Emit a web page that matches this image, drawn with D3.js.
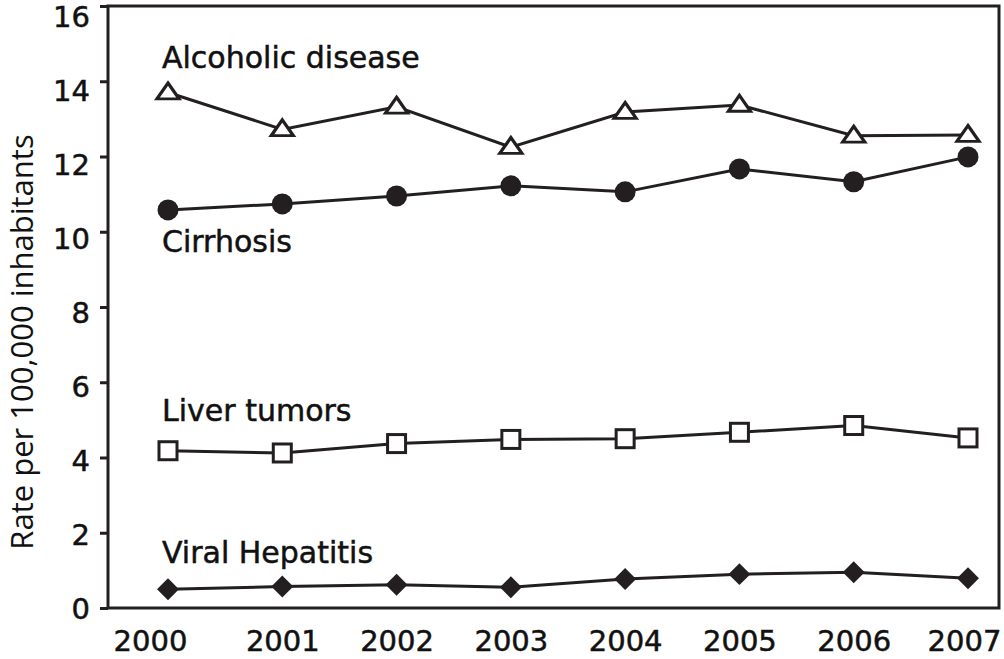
<!DOCTYPE html>
<html>
<head>
<meta charset="utf-8">
<script src="https://cdn.jsdelivr.net/npm/d3@7"></script>
<style>
  body { margin: 0; background: #fff; }
  .tick text { font-family: 'DejaVu Sans', sans-serif; }
</style>
</head>
<body>
<div id="chart"></div>
<script>
// The data
var years = [2000, 2001, 2002, 2003, 2004, 2005, 2006, 2007];
var yTicks = [0, 2, 4, 6, 8, 10, 12, 14, 16];
var alcoholic = [13.7, 12.72, 13.32, 12.25, 13.18, 13.37, 12.55, 12.57];
var cirrhosis = [10.58, 10.74, 10.95, 11.22, 11.06, 11.67, 11.33, 11.99];
var liverTumors = [4.18, 4.12, 4.37, 4.48, 4.5, 4.67, 4.85, 4.52];
var viralHepatitis = [0.5, 0.57, 0.62, 0.55, 0.77, 0.9, 0.95, 0.79];
var seriesNames = ['Alcoholic disease', 'Cirrhosis', 'Liver tumors', 'Viral Hepatitis'];

// Chart dimensions
var margin = { top: 6, right: 5, bottom: 51, left: 108 },
    width = 1004 - margin.left - margin.right,
    height = 659 - margin.top - margin.bottom;

var svg = d3.select('#chart').append('svg')
    .attr('width', 1004)
    .attr('height', 659)
  .append('g')
    .attr('transform', 'translate(' + margin.left + ',' + margin.top + ')');

var x = d3.scaleLinear().domain([2000, 2007]).range([60, 860]);
var y = d3.scaleLinear().domain([0, 16]).range([height, 0]);
// tick labels sit a little lower than their ticks near the top
var yLabel = d3.scaleLinear().domain([0, 16]).range([height, 10]);

// Frame
svg.append('rect')
    .attr('x', 0).attr('y', 0)
    .attr('width', width).attr('height', height)
    .style('fill', 'none')
    .style('stroke', '#231f20')
    .style('stroke-width', 3);

// Y axis
var yAxis = svg.append('g')
    .call(d3.axisLeft(y).tickValues(yTicks).tickSize(8).tickPadding(10));
yAxis.select('.domain').remove();
yAxis.selectAll('line').style('stroke', '#231f20').style('stroke-width', 3);
yAxis.selectAll('text')
    .style('font-size', '29px')
    .style('fill', '#111')
    .style('stroke', '#111')
    .style('stroke-width', 0.5)
    .attr('y', function(d) { return yLabel(d) - y(d); })
    .attr('dy', '0.36em');

// X axis (labels only)
var xAxis = svg.append('g')
    .attr('transform', 'translate(0,' + height + ')')
    .call(d3.axisBottom(x).tickValues(years).tickFormat(d3.format('d')).tickSize(0).tickPadding(22));
xAxis.select('.domain').remove();
xAxis.selectAll('text')
    .style('font-size', '29px')
    .style('fill', '#111')
    .style('stroke', '#111')
    .style('stroke-width', 0.5)
    .attr('dx', function(d) { return d === 2000 ? -18 : (d === 2007 ? -4 : 0); });

// Y axis title
svg.append('text')
    .attr('transform', 'translate(' + (-75) + ',' + 336 + ') rotate(-90)')
    .attr('text-anchor', 'middle')
    .style('font-family', "'Open Sans', sans-serif")
    .style('font-size', '31px')
    .style('fill', '#111')
    .text('Rate per 100,000 inhabitants');

var line = d3.line()
    .x(function(d, i) { return x(years[i]); })
    .y(function(d) { return y(d); });

var allSeries = [alcoholic, cirrhosis, liverTumors, viralHepatitis];
svg.selectAll('.series')
    .data(allSeries)
    .enter()
  .append('path')
    .attr('class', 'series')
    .attr('d', line)
    .style('fill', 'none')
    .style('stroke', '#231f20')
    .style('stroke-width', 3);

// Markers
var tri = d3.symbol().type(d3.symbolTriangle).size(160);
svg.selectAll('.tri')
    .data(alcoholic)
    .enter()
  .append('path')
    .attr('d', tri)
    .attr('transform', function(d, i) { return 'translate(' + x(years[i]) + ',' + (y(d) + 1) + ') scale(1.15,0.95)'; })
    .style('fill', '#fff')
    .style('stroke', '#231f20')
    .style('stroke-width', 3);

svg.selectAll('.dot')
    .data(cirrhosis)
    .enter()
  .append('circle')
    .attr('cx', function(d, i) { return x(years[i]); })
    .attr('cy', function(d) { return y(d); })
    .attr('r', 10.5)
    .style('fill', '#231f20');

svg.selectAll('.sq')
    .data(liverTumors)
    .enter()
  .append('rect')
    .attr('x', function(d, i) { return x(years[i]) - 9; })
    .attr('y', function(d) { return y(d) - 9; })
    .attr('width', 18)
    .attr('height', 18)
    .style('fill', '#fff')
    .style('stroke', '#231f20')
    .style('stroke-width', 3);

var diamond = d3.symbol().type(d3.symbolSquare).size(240);
svg.selectAll('.dia')
    .data(viralHepatitis)
    .enter()
  .append('path')
    .attr('d', diamond)
    .attr('transform', function(d, i) { return 'translate(' + x(years[i]) + ',' + y(d) + ') rotate(45)'; })
    .style('fill', '#231f20');

// Series labels
var labelPos = [[54, 62], [54, 246], [54, 415], [54, 557]];
svg.selectAll('.label')
    .data(seriesNames)
    .enter()
  .append('text')
    .attr('x', function(d, i) { return labelPos[i][0]; })
    .attr('y', function(d, i) { return labelPos[i][1]; })
    .style('font-family', "'DejaVu Sans', sans-serif")
    .style('font-size', '30px')
    .style('fill', '#111')
    .style('stroke', '#111')
    .style('stroke-width', 0.5)
    .text(function(d) { return d; });
</script>
</body>
</html>
